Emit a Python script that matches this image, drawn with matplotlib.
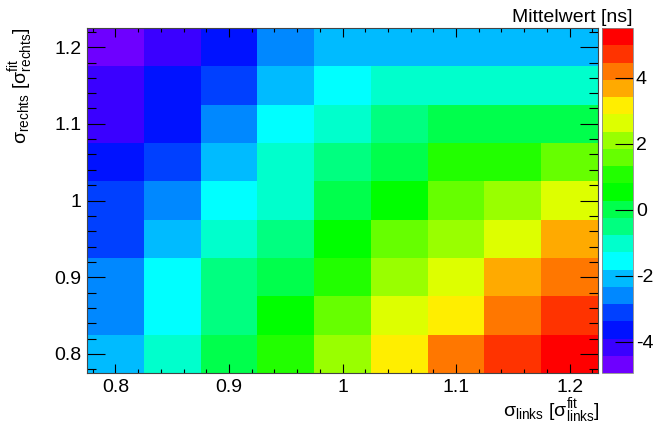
import numpy as np
import matplotlib
matplotlib.use("Agg")
import matplotlib.pyplot as plt
from matplotlib.colors import ListedColormap, BoundaryNorm
from matplotlib.ticker import MultipleLocator, FuncFormatter

plt.rcParams["font.family"] = ["Liberation Sans", "DejaVu Sans"]
plt.rcParams["mathtext.fontset"] = "custom"
plt.rcParams["mathtext.rm"] = "Liberation Sans"
plt.rcParams["mathtext.it"] = "Liberation Sans"
plt.rcParams["axes.unicode_minus"] = False

# ── data: bin centres and mean values [ns] ──────────────────────
sigma_links = [0.80, 0.85, 0.90, 0.95, 1.00, 1.05, 1.10, 1.15, 1.20]
sigma_rechts = [0.80, 0.85, 0.90, 0.95, 1.00, 1.05, 1.10, 1.15, 1.20]

# rows from sigma_rechts = 0.80 (bottom) up to 1.20 (top)
row_080 = [-2.07, -1.03, 0.02, 1.07, 2.11, 3.16, 4.20, 4.73, 5.40]
row_085 = [-2.60, -1.55, -0.50, 0.54, 1.59, 2.64, 3.16, 4.20, 4.73]
row_090 = [-2.60, -1.55, -0.50, 0.02, 1.07, 2.11, 2.64, 3.68, 4.20]
row_095 = [-3.12, -2.07, -1.03, -0.50, 0.54, 1.59, 2.11, 2.64, 3.68]
row_100 = [-3.12, -2.60, -1.55, -1.03, 0.02, 0.54, 1.59, 2.11, 2.64]
row_105 = [-3.64, -3.12, -2.07, -1.03, -0.50, 0.02, 1.07, 1.07, 1.59]
row_110 = [-4.17, -3.64, -2.60, -1.55, -1.03, -0.50, 0.02, 0.02, 0.02]
row_115 = [-4.17, -3.64, -3.12, -2.07, -1.55, -1.03, -1.03, -1.03, -1.03]
row_120 = [-4.90, -4.17, -3.64, -2.60, -2.07, -2.07, -2.07, -2.07, -2.07]

z_min, z_max = -4.95, 5.5
n_levels = 20

# ROOT-like rainbow palette (20 contours)
palette = ["#6e00ff", "#3a00ff", "#0012ff", "#0040ff", "#0088ff",
           "#00bbff", "#00ffff", "#00ffcc", "#00ff80", "#00ff4c",
           "#00ff00", "#22ff00", "#66ff00", "#99ff00", "#ddff00",
           "#ffee00", "#ffaa00", "#ff7700", "#ff3300", "#ff0000"]

values = np.array([row_080, row_085, row_090, row_095, row_100,
                   row_105, row_110, row_115, row_120])
xc = np.array(sigma_links)
yc = np.array(sigma_rechts)
dx = xc[1] - xc[0]
dy = yc[1] - yc[0]
xe = np.append(xc - dx / 2, xc[-1] + dx / 2)
ye = np.append(yc - dy / 2, yc[-1] + dy / 2)

cmap = ListedColormap(palette)
levels = np.linspace(z_min, z_max, n_levels + 1)
norm = BoundaryNorm(levels, cmap.N)

fig = plt.figure(figsize=(6.54, 4.25), dpi=100)
ax = fig.add_axes([87/654, 1-373/425, 511/654, 345/425])
mesh = ax.pcolormesh(xe, ye, values, cmap=cmap, norm=norm)

ax.xaxis.set_major_locator(MultipleLocator(0.1))
ax.xaxis.set_minor_locator(MultipleLocator(0.02))
ax.yaxis.set_major_locator(MultipleLocator(0.1))
ax.yaxis.set_minor_locator(MultipleLocator(0.02))
fmt = lambda v, p: "1" if abs(v - 1) < 1e-9 else "%.1f" % v
ax.xaxis.set_major_formatter(FuncFormatter(fmt))
ax.yaxis.set_major_formatter(FuncFormatter(fmt))
ax.set_xlim(xe[0], xe[-1])
ax.set_ylim(ye[0], ye[-1])

ax.tick_params(axis="x", which="major", direction="in", length=6.5, width=0.8,
               top=True, labelsize=14, pad=4)
ax.tick_params(axis="x", which="minor", direction="in", length=3.2, width=0.8, top=True)
ax.tick_params(axis="y", which="major", direction="in", length=13, width=0.8,
               right=True, labelsize=14, pad=4)
ax.tick_params(axis="y", which="minor", direction="in", length=6.5, width=0.8, right=True)
for s in ax.spines.values():
    s.set_linewidth(0.8)
    s.set_color("#444444")

cax = fig.add_axes([602/654, 1-373/425, 31/654, 345/425])
cb = fig.colorbar(mesh, cax=cax, ticks=[-4, -2, 0, 2, 4])
cb.outline.set_linewidth(0.6)
cb.outline.set_edgecolor("#888888")
cax.tick_params(direction="in", length=13, width=0.8, labelsize=14, pad=2)
cax.minorticks_off()

fig.text(600/654, 1-416/425,
         r"$\mathrm{\sigma_{links}\ [\sigma^{fit}_{links}]}$",
         ha="right", va="baseline", fontsize=14)
fig.text(21/654, 1-27/425,
         r"$\mathrm{\sigma_{rechts}\ [\sigma^{fit}_{rechts}]}$",
         ha="center", va="top", rotation=90, fontsize=14)
fig.text(633/654, 1-22/425, "Mittelwert [ns]", ha="right", va="baseline", fontsize=14)

fig.savefig("out.png", dpi=100)
plt.close(fig)
